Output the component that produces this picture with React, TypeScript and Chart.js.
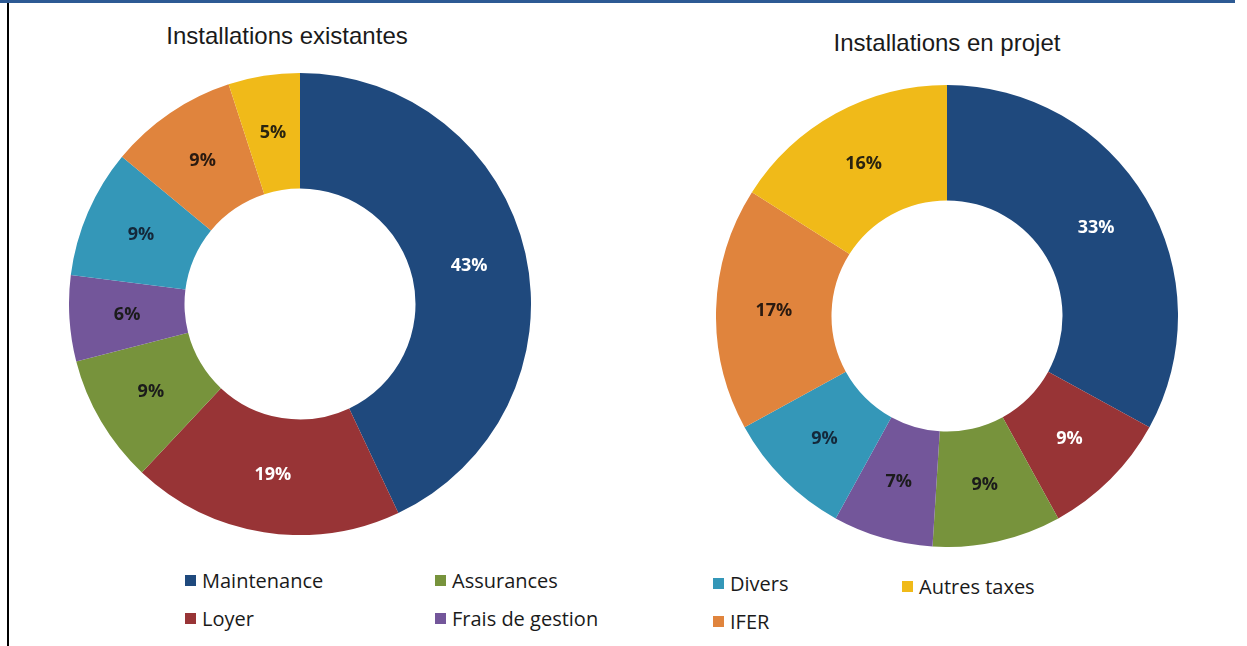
import React, { useEffect, useRef } from "react";
import { Chart, registerables } from "chart.js";

Chart.register(...registerables);

const categories = ["Maintenance", "Loyer", "Assurances", "Frais de gestion", "Divers", "IFER", "Autres taxes"];
const existingValues = [43, 19, 9, 6, 9, 9, 5];
const projectValues = [33, 9, 9, 7, 9, 17, 16];
const sliceColors = ["#1F497D", "#983436", "#77933C", "#73569A", "#3497B8", "#E0843D", "#F0BA19"];
const labelColors = ["#ffffff", "#ffffff", "#1b1b1b", "#1b1b1b", "#14283a", "#2a1a10", "#2a2410"];
const titles = ["Installations existantes", "Installations en projet"];
const legendColumns = [[0, 1], [2, 3], [4, 5], [6]];

const pctPlugin = {
  id: "pctLabels",
  afterDatasetsDraw(chart: any) {
    const ctx = chart.ctx;
    const ds = chart.data.datasets[0];
    const meta = chart.getDatasetMeta(0);
    ctx.save();
    ctx.font = "bold 18px 'Open Sans'";
    ctx.textAlign = "center";
    ctx.textBaseline = "middle";
    meta.data.forEach((arc: any, i: number) => {
      const p = arc.tooltipPosition();
      ctx.fillStyle = labelColors[i];
      ctx.fillText(ds.data[i] + "%", p.x, p.y);
    });
    ctx.restore();
  },
};

function Doughnut({ values, style }: { values: number[]; style: React.CSSProperties }) {
  const ref = useRef<HTMLCanvasElement>(null);
  useEffect(() => {
    if (!ref.current) return;
    const chart = new Chart(ref.current, {
      type: "doughnut",
      data: {
        labels: categories,
        datasets: [
          {
            data: values,
            backgroundColor: sliceColors,
            borderWidth: 0,
            hoverOffset: 0,
            offset: 0,
          } as any,
        ],
      },
      options: {
        responsive: false,
        animation: false,
        cutout: "50%",
        layout: { padding: 0 },
        plugins: { legend: { display: false }, tooltip: { enabled: false }, title: { display: false } },
        events: [],
      },
      plugins: [pctPlugin],
    });
    return () => chart.destroy();
  }, [values]);
  return <canvas ref={ref} width={462} height={462} style={{ position: "absolute", ...style }} />;
}

export default function App() {
  const colLeft = [185, 435, 713, 902];
  const rowTop = [570, 608];
  return (
    <div style={{ position: "absolute", left: 0, top: 0, width: 1247, height: 646, background: "#fff", overflow: "hidden" }}>
      <div style={{ position: "absolute", left: 0, top: 0, width: 1235, height: 3, background: "#2D5A94" }} />
      <div style={{ position: "absolute", left: 7, top: 3, width: 2, height: 643, background: "#000" }} />
      <div style={{ position: "absolute", left: 87, top: 22, width: 400, textAlign: "center", font: "24px 'Liberation Sans', Arial, sans-serif", color: "#1a1a1a" }}>{titles[0]}</div>
      <div style={{ position: "absolute", left: 747, top: 29, width: 400, textAlign: "center", font: "24px 'Liberation Sans', Arial, sans-serif", color: "#1a1a1a" }}>{titles[1]}</div>
      <Doughnut values={existingValues} style={{ left: 69, top: 73 }} />
      <Doughnut values={projectValues} style={{ left: 716, top: 85 }} />
      {legendColumns.map((col, ci) =>
        col.map((idx, ri) => (
          <div
            key={idx}
            style={{
              position: "absolute",
              left: colLeft[ci],
              top: rowTop[ri] + (ci === 3 ? 6 : ci === 2 ? 3 : 0),
              display: "flex",
              alignItems: "center",
              font: "20px 'Open Sans', sans-serif",
              color: "#1a1a1a",
              whiteSpace: "nowrap",
              height: 20,
            }}
          >
            <span style={{ display: "inline-block", width: 11, height: 11, background: sliceColors[idx], marginRight: 6 }} />
            <span>{categories[idx]}</span>
          </div>
        ))
      )}
    </div>
  );
}
